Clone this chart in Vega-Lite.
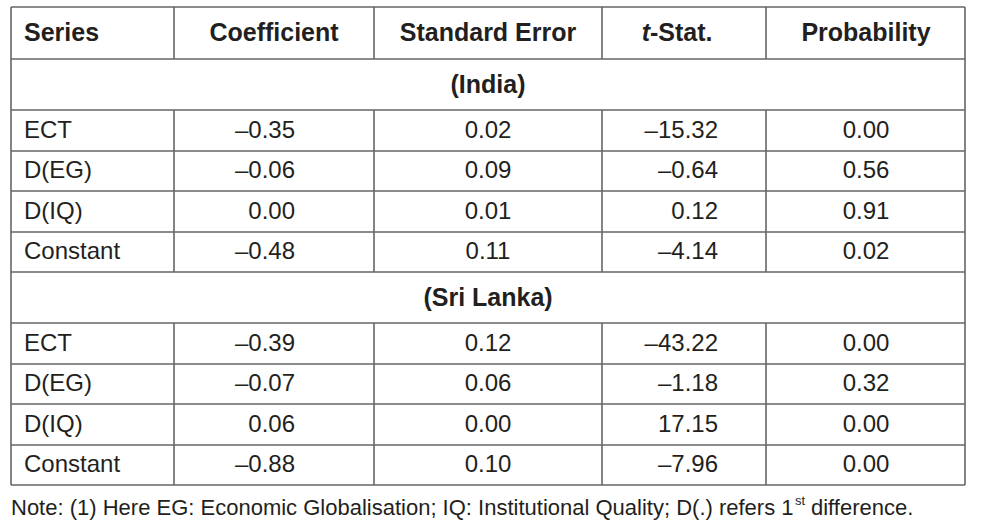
{
  "$schema": "https://vega.github.io/schema/vega-lite/v6.json",
  "width": 985,
  "height": 528,
  "padding": 0,
  "autosize": "none",
  "background": "white",
  "config": {"view": {"stroke": null}, "text": {"font": "Liberation Sans", "color": "#231f20", "baseline": "middle"}},
  "datasets": {
    "cells": [
      {"r": 2, "c": 0, "t": "ECT"}, {"r": 2, "c": 1, "t": "–0.35"}, {"r": 2, "c": 2, "t": "0.02"}, {"r": 2, "c": 3, "t": "–15.32"}, {"r": 2, "c": 4, "t": "0.00"},
      {"r": 3, "c": 0, "t": "D(EG)"}, {"r": 3, "c": 1, "t": "–0.06"}, {"r": 3, "c": 2, "t": "0.09"}, {"r": 3, "c": 3, "t": "–0.64"}, {"r": 3, "c": 4, "t": "0.56"},
      {"r": 4, "c": 0, "t": "D(IQ)"}, {"r": 4, "c": 1, "t": "0.00"}, {"r": 4, "c": 2, "t": "0.01"}, {"r": 4, "c": 3, "t": "0.12"}, {"r": 4, "c": 4, "t": "0.91"},
      {"r": 5, "c": 0, "t": "Constant"}, {"r": 5, "c": 1, "t": "–0.48"}, {"r": 5, "c": 2, "t": "0.11"}, {"r": 5, "c": 3, "t": "–4.14"}, {"r": 5, "c": 4, "t": "0.02"},
      {"r": 7, "c": 0, "t": "ECT"}, {"r": 7, "c": 1, "t": "–0.39"}, {"r": 7, "c": 2, "t": "0.12"}, {"r": 7, "c": 3, "t": "–43.22"}, {"r": 7, "c": 4, "t": "0.00"},
      {"r": 8, "c": 0, "t": "D(EG)"}, {"r": 8, "c": 1, "t": "–0.07"}, {"r": 8, "c": 2, "t": "0.06"}, {"r": 8, "c": 3, "t": "–1.18"}, {"r": 8, "c": 4, "t": "0.32"},
      {"r": 9, "c": 0, "t": "D(IQ)"}, {"r": 9, "c": 1, "t": "0.06"}, {"r": 9, "c": 2, "t": "0.00"}, {"r": 9, "c": 3, "t": "17.15"}, {"r": 9, "c": 4, "t": "0.00"},
      {"r": 10, "c": 0, "t": "Constant"}, {"r": 10, "c": 1, "t": "–0.88"}, {"r": 10, "c": 2, "t": "0.10"}, {"r": 10, "c": 3, "t": "–7.96"}, {"r": 10, "c": 4, "t": "0.00"}
    ],
    "headers": [
      {"r": 0, "c": 0, "t": "Series"}, {"r": 0, "c": 1, "t": "Coefficient"}, {"r": 0, "c": 2, "t": "Standard Error"}, {"r": 0, "c": 4, "t": "Probability"}
    ],
    "theader": [
      {"r": 0, "c": 3, "part": "italic", "t": "t"}, {"r": 0, "c": 3, "part": "rest", "t": "-Stat."}
    ],
    "groups": [
      {"r": 1, "c": 2, "t": "(India)"}, {"r": 6, "c": 2, "t": "(Sri Lanka)"}
    ],
    "note": [
      {"r": 11, "c": 0, "part": "main", "t": "Note: (1) Here EG: Economic Globalisation; IQ: Institutional Quality; D(.) refers 1"},
      {"r": 11, "c": 0, "part": "sup", "t": "st"},
      {"r": 11, "c": 0, "part": "end", "t": "difference."}
    ],
    "lines": [
      {"x": 0, "x2": 5, "y": 0, "y2": 0}, {"x": 0, "x2": 5, "y": 1, "y2": 1}, {"x": 0, "x2": 5, "y": 2, "y2": 2}, {"x": 0, "x2": 5, "y": 3, "y2": 3},
      {"x": 0, "x2": 5, "y": 4, "y2": 4}, {"x": 0, "x2": 5, "y": 5, "y2": 5}, {"x": 0, "x2": 5, "y": 6, "y2": 6}, {"x": 0, "x2": 5, "y": 7, "y2": 7},
      {"x": 0, "x2": 5, "y": 8, "y2": 8}, {"x": 0, "x2": 5, "y": 9, "y2": 9}, {"x": 0, "x2": 5, "y": 10, "y2": 10}, {"x": 0, "x2": 5, "y": 11, "y2": 11},
      {"x": 0, "x2": 0, "y": 0, "y2": 11}, {"x": 5, "x2": 5, "y": 0, "y2": 11},
      {"x": 1, "x2": 1, "y": 0, "y2": 1}, {"x": 2, "x2": 2, "y": 0, "y2": 1}, {"x": 3, "x2": 3, "y": 0, "y2": 1}, {"x": 4, "x2": 4, "y": 0, "y2": 1},
      {"x": 1, "x2": 1, "y": 2, "y2": 6}, {"x": 2, "x2": 2, "y": 2, "y2": 6}, {"x": 3, "x2": 3, "y": 2, "y2": 6}, {"x": 4, "x2": 4, "y": 2, "y2": 6},
      {"x": 1, "x2": 1, "y": 7, "y2": 11}, {"x": 2, "x2": 2, "y": 7, "y2": 11}, {"x": 3, "x2": 3, "y": 7, "y2": 11}, {"x": 4, "x2": 4, "y": 7, "y2": 11}
    ]
  },
  "resolve": {"scale": {"x": "independent", "y": "independent"}},
  "layer": [
    {
      "data": {"name": "lines"},
      "mark": {"type": "rule", "color": "#666666", "strokeWidth": 1.6},
      "encoding": {
        "x": {"field": "x", "type": "quantitative", "axis": null, "scale": {"domain": [0, 1, 2, 3, 4, 5], "range": [11, 174, 374, 602, 766, 965], "nice": false, "zero": false}},
        "x2": {"field": "x2"},
        "y": {"field": "y", "type": "quantitative", "axis": null, "scale": {"domain": [0, 1, 2, 3, 4, 5, 6, 7, 8, 9, 10, 11], "range": [7, 59, 110, 151, 191, 232, 272, 323, 364, 404, 445, 485], "nice": false, "zero": false}},
        "y2": {"field": "y2"}
      }
    },
    {
      "data": {"name": "cells"},
      "transform": [{"filter": "datum.c == 0"}],
      "mark": {"type": "text", "align": "left", "fontSize": 24},
      "encoding": {
        "x": {"field": "c", "type": "quantitative", "axis": null, "scale": {"domain": [0, 1, 2, 3, 4], "range": [24, 295, 488, 718, 866], "nice": false, "zero": false}},
        "y": {"field": "r", "type": "quantitative", "axis": null, "scale": {"domain": [0, 1, 2, 3, 4, 5, 6, 7, 8, 9, 10, 11], "range": [33, 84.5, 130.5, 171, 211.5, 252, 297.5, 343.5, 384, 424.5, 465, 508], "nice": false, "zero": false}},
        "text": {"field": "t"}
      }
    },
    {
      "data": {"name": "cells"},
      "transform": [{"filter": "datum.c == 1 || datum.c == 3"}],
      "mark": {"type": "text", "align": "right", "fontSize": 24},
      "encoding": {
        "x": {"field": "c", "type": "quantitative", "axis": null, "scale": {"domain": [0, 1, 2, 3, 4], "range": [24, 295, 488, 718, 866], "nice": false, "zero": false}},
        "y": {"field": "r", "type": "quantitative", "axis": null, "scale": {"domain": [0, 1, 2, 3, 4, 5, 6, 7, 8, 9, 10, 11], "range": [33, 84.5, 130.5, 171, 211.5, 252, 297.5, 343.5, 384, 424.5, 465, 508], "nice": false, "zero": false}},
        "text": {"field": "t"}
      }
    },
    {
      "data": {"name": "cells"},
      "transform": [{"filter": "datum.c == 2 || datum.c == 4"}],
      "mark": {"type": "text", "align": "center", "fontSize": 24},
      "encoding": {
        "x": {"field": "c", "type": "quantitative", "axis": null, "scale": {"domain": [0, 1, 2, 3, 4], "range": [24, 295, 488, 718, 866], "nice": false, "zero": false}},
        "y": {"field": "r", "type": "quantitative", "axis": null, "scale": {"domain": [0, 1, 2, 3, 4, 5, 6, 7, 8, 9, 10, 11], "range": [33, 84.5, 130.5, 171, 211.5, 252, 297.5, 343.5, 384, 424.5, 465, 508], "nice": false, "zero": false}},
        "text": {"field": "t"}
      }
    },
    {
      "data": {"name": "headers"},
      "transform": [{"filter": "datum.c == 0"}],
      "mark": {"type": "text", "align": "left", "fontSize": 25, "fontWeight": "bold"},
      "encoding": {
        "x": {"field": "c", "type": "quantitative", "axis": null, "scale": {"domain": [0, 1, 2, 3, 4], "range": [24, 274, 488, 684, 866], "nice": false, "zero": false}},
        "y": {"field": "r", "type": "quantitative", "axis": null, "scale": {"domain": [0, 1, 2, 3, 4, 5, 6, 7, 8, 9, 10, 11], "range": [33, 84.5, 130.5, 171, 211.5, 252, 297.5, 343.5, 384, 424.5, 465, 508], "nice": false, "zero": false}},
        "text": {"field": "t"}
      }
    },
    {
      "data": {"name": "headers"},
      "transform": [{"filter": "datum.c != 0"}],
      "mark": {"type": "text", "align": "center", "fontSize": 25, "fontWeight": "bold"},
      "encoding": {
        "x": {"field": "c", "type": "quantitative", "axis": null, "scale": {"domain": [0, 1, 2, 3, 4], "range": [24, 274, 488, 684, 866], "nice": false, "zero": false}},
        "y": {"field": "r", "type": "quantitative", "axis": null, "scale": {"domain": [0, 1, 2, 3, 4, 5, 6, 7, 8, 9, 10, 11], "range": [33, 84.5, 130.5, 171, 211.5, 252, 297.5, 343.5, 384, 424.5, 465, 508], "nice": false, "zero": false}},
        "text": {"field": "t"}
      }
    },
    {
      "data": {"name": "theader"},
      "transform": [{"filter": "datum.part == 'italic'"}],
      "mark": {"type": "text", "align": "right", "fontSize": 25, "fontWeight": "bold", "fontStyle": "italic", "dx": -34},
      "encoding": {
        "x": {"field": "c", "type": "quantitative", "axis": null, "scale": {"domain": [0, 1, 2, 3, 4], "range": [24, 274, 488, 684, 866], "nice": false, "zero": false}},
        "y": {"field": "r", "type": "quantitative", "axis": null, "scale": {"domain": [0, 1, 2, 3, 4, 5, 6, 7, 8, 9, 10, 11], "range": [33, 84.5, 130.5, 171, 211.5, 252, 297.5, 343.5, 384, 424.5, 465, 508], "nice": false, "zero": false}},
        "text": {"field": "t"}
      }
    },
    {
      "data": {"name": "theader"},
      "transform": [{"filter": "datum.part == 'rest'"}],
      "mark": {"type": "text", "align": "left", "fontSize": 25, "fontWeight": "bold", "dx": -34},
      "encoding": {
        "x": {"field": "c", "type": "quantitative", "axis": null, "scale": {"domain": [0, 1, 2, 3, 4], "range": [24, 274, 488, 684, 866], "nice": false, "zero": false}},
        "y": {"field": "r", "type": "quantitative", "axis": null, "scale": {"domain": [0, 1, 2, 3, 4, 5, 6, 7, 8, 9, 10, 11], "range": [33, 84.5, 130.5, 171, 211.5, 252, 297.5, 343.5, 384, 424.5, 465, 508], "nice": false, "zero": false}},
        "text": {"field": "t"}
      }
    },
    {
      "data": {"name": "groups"},
      "mark": {"type": "text", "align": "center", "fontSize": 25, "fontWeight": "bold"},
      "encoding": {
        "x": {"field": "c", "type": "quantitative", "axis": null, "scale": {"domain": [0, 1, 2, 3, 4], "range": [24, 274, 488, 684, 866], "nice": false, "zero": false}},
        "y": {"field": "r", "type": "quantitative", "axis": null, "scale": {"domain": [0, 1, 2, 3, 4, 5, 6, 7, 8, 9, 10, 11], "range": [33, 84.5, 130.5, 171, 211.5, 252, 297.5, 343.5, 384, 424.5, 465, 508], "nice": false, "zero": false}},
        "text": {"field": "t"}
      }
    },
    {
      "data": {"name": "note"},
      "transform": [{"filter": "datum.part == 'main'"}],
      "mark": {"type": "text", "align": "left", "fontSize": 22},
      "encoding": {
        "x": {"field": "c", "type": "quantitative", "axis": null, "scale": {"domain": [0, 1], "range": [11, 174], "nice": false, "zero": false}},
        "y": {"field": "r", "type": "quantitative", "axis": null, "scale": {"domain": [0, 1, 2, 3, 4, 5, 6, 7, 8, 9, 10, 11], "range": [33, 84.5, 130.5, 171, 211.5, 252, 297.5, 343.5, 384, 424.5, 465, 508], "nice": false, "zero": false}},
        "text": {"field": "t"}
      }
    },
    {
      "data": {"name": "note"},
      "transform": [{"filter": "datum.part == 'sup'"}],
      "mark": {"type": "text", "align": "left", "fontSize": 13, "dx": 784, "dy": -7},
      "encoding": {
        "x": {"field": "c", "type": "quantitative", "axis": null, "scale": {"domain": [0, 1], "range": [11, 174], "nice": false, "zero": false}},
        "y": {"field": "r", "type": "quantitative", "axis": null, "scale": {"domain": [0, 1, 2, 3, 4, 5, 6, 7, 8, 9, 10, 11], "range": [33, 84.5, 130.5, 171, 211.5, 252, 297.5, 343.5, 384, 424.5, 465, 508], "nice": false, "zero": false}},
        "text": {"field": "t"}
      }
    },
    {
      "data": {"name": "note"},
      "transform": [{"filter": "datum.part == 'end'"}],
      "mark": {"type": "text", "align": "left", "fontSize": 22, "dx": 800},
      "encoding": {
        "x": {"field": "c", "type": "quantitative", "axis": null, "scale": {"domain": [0, 1], "range": [11, 174], "nice": false, "zero": false}},
        "y": {"field": "r", "type": "quantitative", "axis": null, "scale": {"domain": [0, 1, 2, 3, 4, 5, 6, 7, 8, 9, 10, 11], "range": [33, 84.5, 130.5, 171, 211.5, 252, 297.5, 343.5, 384, 424.5, 465, 508], "nice": false, "zero": false}},
        "text": {"field": "t"}
      }
    }
  ]
}
